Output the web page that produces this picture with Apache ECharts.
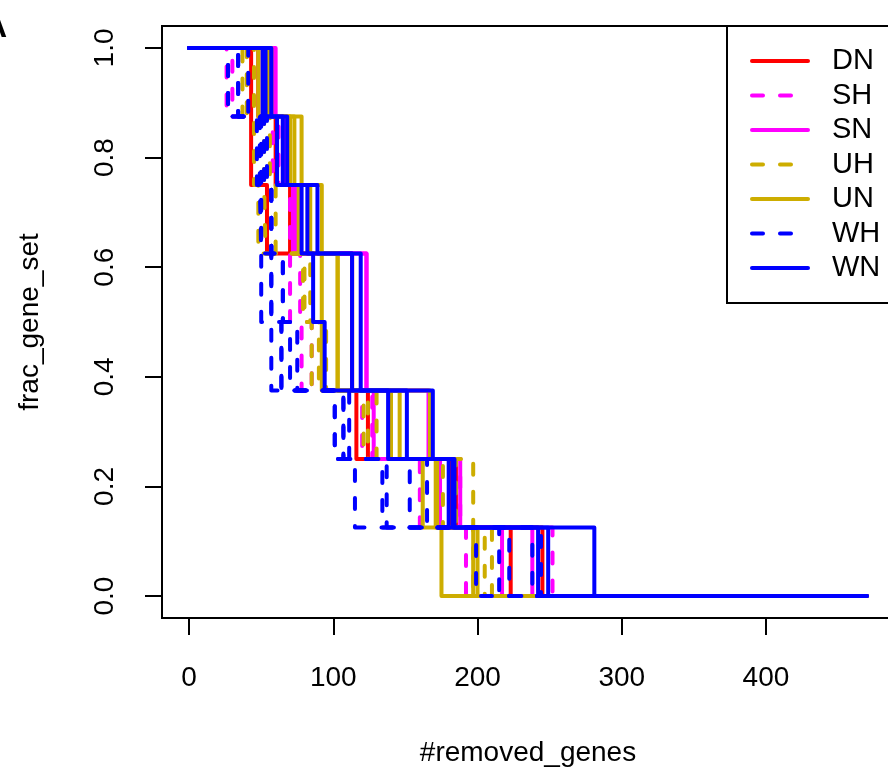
<!DOCTYPE html>
<html>
<head>
<meta charset="utf-8">
<script src="https://cdn.jsdelivr.net/npm/echarts@6/dist/echarts.min.js"></script>
<style>
  html, body { margin: 0; padding: 0; background: #fff; }
  #chart { width: 888px; height: 771px; }
</style>
</head>
<body>
<div id="chart"></div>
<script>
// x positions where each curve loses one gene (8 genes per set)
var DN = [[43, 43, 54, 113, 113, 116, 181, 223], [48, 60, 70, 113, 113, 124, 185, 245]];
var SH = [[26, 58, 70, 70, 78, 120, 160, 192], [30, 62, 72, 77, 85, 127, 188, 252]];
var SN = [[59, 65, 72, 123, 123, 128, 174, 217], [60, 66, 74, 123, 123, 166, 188, 238]];
var UH = [[37, 45, 48, 79, 85, 121, 176, 197], [40, 52, 53, 84, 90, 124, 185, 205], [45, 56, 60, 80, 95, 130, 197, 210]];
var UN = [[48, 73, 76, 92, 92, 146, 162, 175], [55, 78, 84, 103, 103, 167, 172, 197], [57, 70, 92, 103, 103, 140, 171, 200]];
var WH = [[27, 47, 50, 50, 57, 101, 115, 199], [34, 49, 50, 57, 64, 107, 134, 215], [27, 52, 57, 57, 64, 111, 137, 222],
          [34, 54, 57, 65, 70, 101, 153, 238], [41, 50, 57, 65, 75, 107, 165, 244]];
var WN = [[51, 61, 78, 86, 94, 138, 180, 242], [53, 65, 82, 113, 113, 151, 183, 249], [57, 68, 89, 119, 119, 169, 184, 281]];

var groupNames = ['DN', 'SH', 'SN', 'UH', 'UN', 'WH', 'WN'];
var groupData = [DN, SH, SN, UH, UN, WH, WN];
var groupColors = ['#FF0000', '#FF00FF', '#FF00FF', '#CDAD00', '#CDAD00', '#0000FF', '#0000FF'];
var groupDashed = [false, true, false, true, false, true, false];

var xTicks = [0, 100, 200, 300, 400];
var yTicks = [0, 0.2, 0.4, 0.6, 0.8, 1.0];
var xEnd = 470;
var nGenes = 8;

function stepPoints(drops) {
    var pts = [[0, 1]];
    var level = 1;
    for (var i = 0; i < drops.length; i++) {
        pts.push([drops[i], level]);
        level = (nGenes - i - 1) / nGenes;
        pts.push([drops[i], level]);
    }
    pts.push([xEnd, level]);
    return pts;
}

var series = [];
groupNames.forEach(function (name, g) {
    groupData[g].forEach(function (drops) {
        series.push({
            name: name,
            type: 'line',
            symbol: 'none',
            data: stepPoints(drops),
            lineStyle: {
                color: groupColors[g],
                width: 4,
                type: groupDashed[g] ? [11, 17] : 'solid',
                cap: 'round',
                join: 'round'
            },
            itemStyle: { color: groupColors[g] }
        });
    });
});

var chart = echarts.init(document.getElementById('chart'));
var option = {
    animation: false,
    textStyle: { fontFamily: 'Liberation Sans' },
    grid: {
        show: true,
        left: 162,
        top: 26,
        width: 732,
        height: 592,
        outerBoundsMode: 'none',
        containLabel: false,
        borderColor: '#000',
        borderWidth: 2,
        backgroundColor: 'transparent'
    },
    xAxis: {
        type: 'value',
        min: -18.8,
        max: 488.8,
        name: '#removed_genes',
        nameLocation: 'middle',
        nameGap: 121,
        nameTextStyle: { fontSize: 28, color: '#000' },
        axisLine: { show: false, onZero: false },
        splitLine: { show: false },
        axisTick: { show: true, length: 17, customValues: xTicks, lineStyle: { color: '#000', width: 2 } },
        axisLabel: { customValues: xTicks, fontSize: 28, color: '#000', margin: 46 }
    },
    yAxis: {
        type: 'value',
        min: -0.04,
        max: 1.04,
        name: 'frac_gene_set',
        nameLocation: 'middle',
        nameGap: 118,
        nameTextStyle: { fontSize: 28, color: '#000' },
        axisLine: { show: false, onZero: false },
        splitLine: { show: false },
        axisTick: { show: true, length: 17, customValues: yTicks, lineStyle: { color: '#000', width: 2 } },
        axisLabel: {
            customValues: yTicks, fontSize: 28, color: '#000', margin: 43, rotate: 90,
            formatter: function (v) { return v.toFixed(1); }
        }
    },
    legend: {
        data: groupNames,
        orient: 'vertical',
        left: 727,
        top: 26,
        padding: [20, 60, 20, 23],
        itemWidth: 56,
        itemHeight: 14,
        itemGap: 4.5,
        backgroundColor: '#fff',
        borderColor: '#000',
        borderWidth: 2,
        borderRadius: 0,
        itemStyle: { color: 'rgba(0,0,0,0)', borderColor: 'rgba(0,0,0,0)', borderWidth: 0 },
        lineStyle: { width: 4 },
        textStyle: { fontSize: 29, color: '#000', lineHeight: 30, padding: [0, 0, 0, 19] }
    },
    graphic: [{
        type: 'text',
        left: -16,
        top: 12,
        style: { text: 'A', font: 'bold 32px Liberation Sans', fill: '#000' }
    }],
    series: series
};
chart.setOption(option);
</script>
</body>
</html>
